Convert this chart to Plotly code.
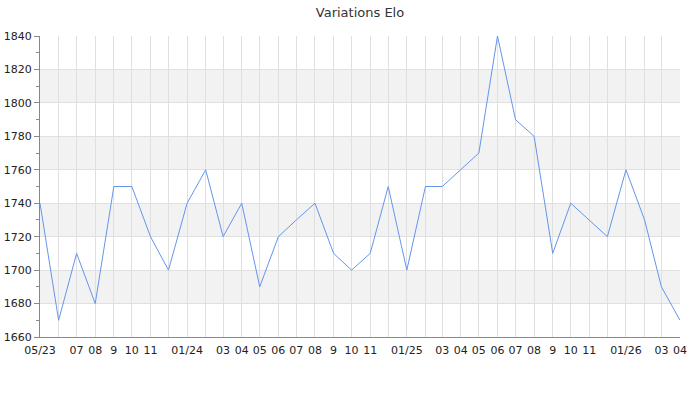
import plotly.graph_objects as go

months = ["2023-05-01","2023-06-01","2023-07-01","2023-08-01","2023-09-01","2023-10-01","2023-11-01","2023-12-01",
          "2024-01-01","2024-02-01","2024-03-01","2024-04-01","2024-05-01","2024-06-01","2024-07-01","2024-08-01",
          "2024-09-01","2024-10-01","2024-11-01","2024-12-01","2025-01-01","2025-02-01","2025-03-01","2025-04-01",
          "2025-05-01","2025-06-01","2025-07-01","2025-08-01","2025-09-01","2025-10-01","2025-11-01","2025-12-01",
          "2026-01-01","2026-02-01","2026-03-01","2026-04-01"]
elo = [1740,1670,1710,1680,1750,1750,1720,1700,
       1740,1760,1720,1740,1690,1720,1730,1740,
       1710,1700,1710,1750,1700,1750,1750,1760,
       1770,1840,1790,1780,1710,1740,1730,1720,
       1760,1730,1690,1670]
tick_labels = ["05/23","","07","08","9","10","11","",
               "01/24","","03","04","05","06","07","08",
               "9","10","11","","01/25","","03","04",
               "05","06","07","08","9","10","11","",
               "01/26","","03","04"]
y_min, y_max, y_step = 1660, 1840, 20

fig = go.Figure()
fig.add_trace(go.Scatter(x=months, y=elo, mode="lines",
                         line=dict(color="#6495ED", width=1), hoverinfo="x+y"))

shapes = []
for i, lo in enumerate(range(y_min, y_max, y_step)):
    if i % 2 == 1:
        shapes.append(dict(type="rect", xref="paper", yref="y", x0=0, x1=1, y0=lo, y1=lo + y_step,
                           fillcolor="#f2f2f2", line=dict(width=0), layer="below"))

fig.update_layout(
    width=700, height=400,
    margin=dict(l=40, r=20, t=36, b=63, autoexpand=False),
    paper_bgcolor="white", plot_bgcolor="white",
    showlegend=False,
    shapes=shapes,
    font=dict(family="DejaVu Sans", size=11, color="#333"),
    title=dict(text="Variations Elo", x=0.5, xanchor="center", xref="paper",
               y=1 - 12 / 400, yref="container", yanchor="middle",
               font=dict(family="DejaVu Sans", size=13, color="#333")),
    xaxis=dict(type="date", range=[months[0], months[-1]], automargin=False,
               tickmode="array", tickvals=months, ticktext=tick_labels,
               showgrid=True, gridcolor="#e0e0e0", gridwidth=1,
               showline=True, linecolor="#888", linewidth=1,
               ticks="", tickangle=0, zeroline=False, ticklabelstandoff=3,
               tickfont=dict(size=11, color="#222")),
    yaxis=dict(range=[y_min, y_max], dtick=y_step, tick0=y_min, automargin=False,
               showgrid=True, gridcolor="#e0e0e0", gridwidth=1,
               showline=True, linecolor="#888", linewidth=1,
               ticks="outside", ticklen=5, tickcolor="#888",
               minor=dict(ticks="outside", ticklen=3, dtick=10, tickcolor="#888", showgrid=False),
               zeroline=False,
               tickfont=dict(size=11, color="#222")),
)

fig.write_html("out.html", config={"displayModeBar": False},
               post_script="document.body.style.margin='0';")
